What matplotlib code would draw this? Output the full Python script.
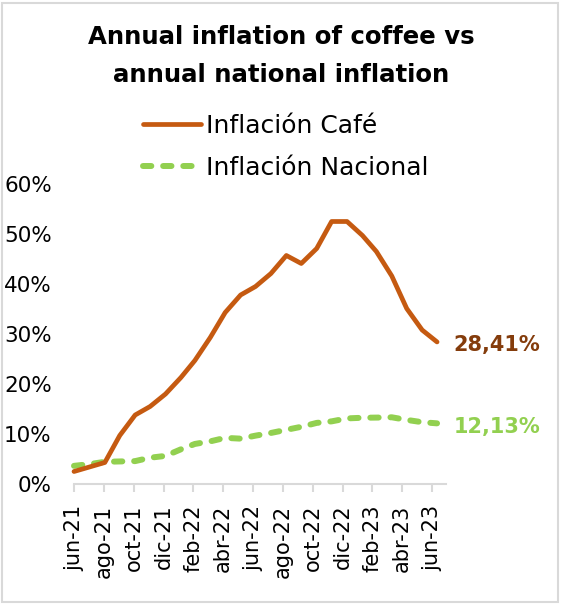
import matplotlib
matplotlib.use("Agg")
import matplotlib.pyplot as plt
import matplotlib.dates as mdates
from matplotlib.patches import Rectangle
import pandas as pd
import numpy as np

# ---------------- data ----------------
dates = pd.date_range("2021-06-30", periods=25, freq="ME")
coffee_infl = [2.5, 3.4, 4.3, 9.7, 13.8, 15.5, 18.0, 21.3, 24.7, 29.3, 34.3, 37.8, 39.5,
               42.1, 45.7, 44.1, 47.1, 52.5, 52.5, 49.7, 46.5, 41.6, 35.1, 30.8, 28.41]
national_infl = [3.63, 3.97, 4.44, 4.51, 4.58, 5.26, 5.62, 6.94, 8.01, 8.53, 9.23, 9.07, 9.67,
                 10.21, 10.84, 11.44, 12.22, 12.53, 13.12, 13.25, 13.28, 13.34, 12.82, 12.36, 12.13]
tick_labels = ["jun-21", "ago-21", "oct-21", "dic-21", "feb-22", "abr-22", "jun-22",
               "ago-22", "oct-22", "dic-22", "feb-23", "abr-23", "jun-23"]
series_names = ["Inflación Café", "Inflación Nacional"]
title = "Annual inflation of coffee vs\nannual national inflation"

# ---------------- style ----------------
ORANGE = "#C55A11"
GREEN = "#92D050"
BROWN = "#843C0C"
GRAY = "#D9D9D9"
plt.rcParams["font.family"] = ["DejaVu Sans"]
plt.rcParams["lines.scale_dashes"] = False

W, H = 562, 604
fig = plt.figure(figsize=(W / 100, H / 100), dpi=100)
fig.patch.set_facecolor("white")

# border
fig.add_artist(Rectangle((1.5 / W, 2.5 / H), 556 / W, 599 / H, transform=fig.transFigure,
                         fill=False, edgecolor=GRAY, linewidth=1.5))

ax = fig.add_axes([74 / W, 1 - 484 / H, (446 - 74) / W, 300 / H])

x = mdates.date2num(dates)
y1 = np.array(coffee_infl) / 100
y2 = np.array(national_infl) / 100

l1, = ax.plot(x, y1, color=ORANGE, lw=3.4, solid_capstyle="round", solid_joinstyle="round",
              label=series_names[0], zorder=3)
l2, = ax.plot(x, y2, color=GREEN, lw=4.3, dashes=(6, 8.5), dash_capstyle="round",
              label=series_names[1], zorder=2)

x0 = x[0]
ticks = [x0 + 60 * k for k in range(len(tick_labels))]
ax.set_xticks(ticks)
ax.set_xticklabels(tick_labels, rotation=90, ha="center", va="top", fontsize=15)
ax.set_xlim(x0, x0 + 748)
ax.set_ylim(0, 0.6)
ax.set_yticks(np.arange(0, 0.61, 0.1))
ax.set_yticklabels([f"{int(round(v * 100))}%" for v in np.arange(0, 0.61, 0.1)], fontsize=15.5)

for s in ["top", "right", "left"]:
    ax.spines[s].set_visible(False)
ax.spines["bottom"].set_color(GRAY)
ax.spines["bottom"].set_linewidth(1.5)
ax.tick_params(axis="x", direction="out", length=6, width=1.5, color=GRAY, pad=9)
ax.tick_params(axis="y", length=0, pad=16)
for l in (l1, l2):
    l.set_clip_on(False)

# end labels
for ys, col in ((y1, BROWN), (y2, GREEN)):
    ax.annotate(f"{ys[-1] * 100:.2f}%".replace(".", ","), xy=(x[-1], ys[-1]),
                xytext=(12, -2.5), textcoords="offset points", ha="left", va="center",
                fontsize=15, fontweight="bold", color=col)

fig.text(0.5, 1 - 56 / H, title, ha="center", va="center", fontsize=17.6, fontweight="bold",
         linespacing=1.7, color="black")

leg = ax.legend(handles=[l1, l2], loc="upper left", bbox_to_anchor=(143 / W, 1 - 114 / H),
                bbox_transform=fig.transFigure, frameon=False, fontsize=18,
                handlelength=2.3, handletextpad=0.2, labelspacing=0.72, borderpad=0,
                borderaxespad=0)

fig.savefig("out.png", dpi=100)
